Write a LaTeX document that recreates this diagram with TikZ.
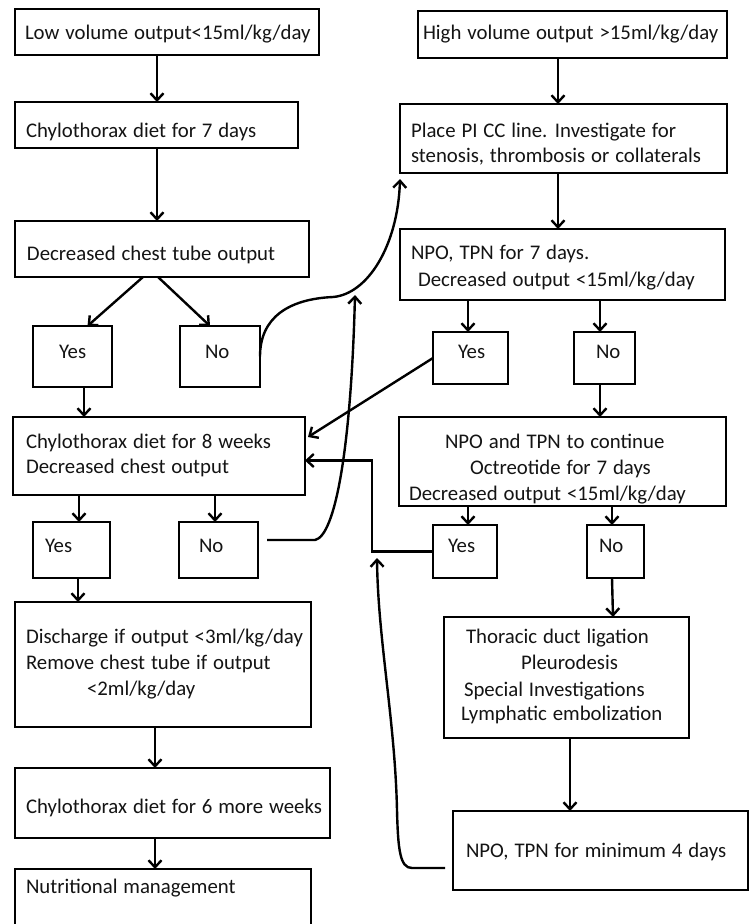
\documentclass[tikz,border=0pt]{standalone}
\usepackage{fontspec}
\setmainfont{Carlito}[WordSpace={1.25}]
\usetikzlibrary{arrows.meta}
\begin{document}
\begin{tikzpicture}[x=1pt,y=-1pt,
  box/.style={draw=black, line width=2.6pt, rectangle, inner sep=0pt, outer sep=0pt},
  txt/.style={anchor=base west, inner sep=0pt, outer sep=0pt, text=black!92, font=\fontsize{20.8}{25}\selectfont},
  conn/.style={line width=2.4pt, -{Straight Barb[length=7pt,width=13pt]}},
  plain/.style={line width=2.4pt}]
\useasboundingbox (0,0) rectangle (751,924);
\fill[white] (0,0) rectangle (751,924);
\clip (0,0) rectangle (751,924);

% ---------- left column boxes ----------
\node[box, minimum width=304pt, minimum height=46pt] (L1) at (167,32) {};
\node[box, minimum width=283pt, minimum height=46pt] (L2) at (156.5,125) {};
\node[box, minimum width=294pt, minimum height=56pt] (L3) at (162,249) {};
\node[box, minimum width=79pt, minimum height=61pt] (Y1) at (72.5,356.5) {};
\node[box, minimum width=80pt, minimum height=61pt] (N1) at (220,356.5) {};
\node[box, minimum width=292pt, minimum height=78pt] (L4) at (159,456) {};
\node[box, minimum width=77pt, minimum height=56pt] (Y2) at (71.5,550) {};
\node[box, minimum width=79pt, minimum height=56pt] (N2) at (218.5,550) {};
\node[box, minimum width=296pt, minimum height=125pt] (L5) at (163,664.5) {};
\node[box, minimum width=315pt, minimum height=70pt] (L6) at (172.5,803) {};
\node[box, minimum width=296pt, minimum height=91pt] (L7) at (163,914.5) {};

% ---------- right column boxes ----------
\node[box, minimum width=309pt, minimum height=47pt] (R1) at (572.5,34.5) {};
\node[box, minimum width=327pt, minimum height=69pt] (R2) at (563.5,138.5) {};
\node[box, minimum width=325pt, minimum height=71pt] (R3) at (562.5,264.5) {};
\node[box, minimum width=75pt, minimum height=52pt] (Y3) at (470.5,358) {};
\node[box, minimum width=61pt, minimum height=52pt] (N3) at (604.5,358) {};
\node[box, minimum width=327pt, minimum height=89pt] (R4) at (562.5,461.5) {};
\node[box, minimum width=64pt, minimum height=53pt] (Y4) at (465,551.5) {};
\node[box, minimum width=57pt, minimum height=53pt] (N4) at (615.5,551.5) {};
\node[box, minimum width=245pt, minimum height=121pt] (R5) at (566.5,677.5) {};
\node[box, minimum width=295pt, minimum height=79pt] (R6) at (600.5,850.5) {};

% ---------- texts ----------
\node[txt] (L1t) at (25,39) {Low volume output<15ml/kg/day};
\node[txt] (L2t) at (26,137) {Chylothorax diet for 7 days};
\node[txt] (L3t) at (27,260) {Decreased chest tube output};
\node[txt] (Y1t) at (59,358) {Yes};
\node[txt] (N1t) at (205,358) {No};
\node[txt] (L4a) at (26,448) {Chylothorax diet for 8 weeks};
\node[txt] (L4b) at (26,473) {Decreased chest output};
\node[txt] (Y2t) at (45,552) {Yes};
\node[txt] (N2t) at (199,552) {No};
\node[txt] (L5a) at (26,643) {Discharge if output <3ml/kg/day};
\node[txt] (L5b) at (26,669) {Remove chest tube if output};
\node[txt] (L5c) at (87,695) {<2ml/kg/day};
\node[txt] (L6t) at (26,813) {Chylothorax diet for 6 more weeks};
\node[txt] (L7t) at (26,893) {Nutritional management};

\node[txt] (R1t) at (423,39) {High volume output >15ml/kg/day};
\node[txt] (R2a) at (411,137) {Place PI CC line. Investigate for};
\node[txt] (R2b) at (411,162) {stenosis, thrombosis or collaterals};
\node[txt] (R3a) at (411,259) {NPO, TPN for 7 days.};
\node[txt] (R3b) at (418,286) {Decreased output <15ml/kg/day};
\node[txt] (Y3t) at (458,358) {Yes};
\node[txt] (N3t) at (596,358) {No};
\node[txt] (R4a) at (445,448) {NPO and TPN to continue};
\node[txt] (R4b) at (470,474) {Octreotide for 7 days};
\node[txt] (R4c) at (409,500) {Decreased output <15ml/kg/day};
\node[txt] (Y4t) at (448,552) {Yes};
\node[txt] (N4t) at (599,552) {No};
\node[txt] (R5a) at (466,643) {Thoracic duct ligation};
\node[txt] (R5b) at (521,669) {Pleurodesis};
\node[txt] (R5c) at (464,696) {Special Investigations};
\node[txt] (R5d) at (461,720) {Lymphatic embolization};
\node[txt] (R6t) at (466,857) {NPO, TPN for minimum 4 days};

% ---------- straight connectors, left ----------
\draw[conn] ([xshift=-10]L1.south) -- ([xshift=0.5]L2.north);
\draw[conn] ([xshift=0.5]L2.south) -- ([xshift=-5]L3.north);
\draw[conn] ([xshift=-19]L3.south) -- ([xshift=15]Y1.north);
\draw[conn] ([xshift=-4]L3.south) -- ([xshift=-10]N1.north);
\draw[conn] ([xshift=11.5]Y1.south) -- ([xshift=-75]L4.north);
\draw[conn] ([xshift=-80]L4.south) -- ([xshift=7.5]Y2.north);
\draw[conn] ([xshift=56]L4.south) -- ([xshift=-3.5]N2.north);
\draw[conn] ([xshift=6.5]Y2.south) -- ([xshift=-85]L5.north);
\draw[conn] ([xshift=-8]L5.south) -- ([xshift=-17.5]L6.north);
\draw[conn] ([xshift=-17.5]L6.south) -- ([xshift=-8]L7.north);

% ---------- straight connectors, right ----------
\draw[conn] ([xshift=-14.5]R1.south) -- ([xshift=-5.5]R2.north);
\draw[conn] ([xshift=-5.5]R2.south) -- ([xshift=-4.5]R3.north);
\draw[conn] ([xshift=-94.5]R3.south) -- ([xshift=-2.5]Y3.north);
\draw[conn] ([xshift=37.5]R3.south) -- ([xshift=-4.5]N3.north);
\draw[conn] ([xshift=-4.5]N3.south) -- ([xshift=37.5]R4.north);
\draw[conn] ([xshift=-94.5]R4.south) -- ([xshift=3]Y4.north);
\draw[conn] ([xshift=49.5]R4.south) -- ([xshift=-3.5]N4.north);
\draw[conn] ([xshift=-3.5]N4.south) -- ([xshift=46.5]R5.north);
\draw[conn] ([xshift=3.5]R5.south) -- ([xshift=-30.5]R6.north);

% ---------- cross connectors ----------
\draw[conn] (Y3.west) -- ([xshift=3,yshift=19]L4.east);
\coordinate (k1) at (372,551.5);
\draw[conn] (Y4.west) -- (k1) |- ([yshift=-4.5]L4.east);

\draw[conn] (N1.east) .. controls (260,318) and (288,299) .. (333,297)
  .. controls (368,294) and (398,245) .. ([yshift=-6]R2.south west);

\coordinate (m) at (355,295);
\draw[conn] ([xshift=9,yshift=10]N2.east) -- (315,540)
  .. controls (335,536) and (351,450) .. (m);

\coordinate (t1) at (377,558);
\draw[conn] ([xshift=-8,yshift=-17.5]R6.west) -- (412,868)
  .. controls (400,868) and (398,850) .. (397,810)
  .. controls (395,720) and (378,640) .. (t1);
\end{tikzpicture}
\end{document}
